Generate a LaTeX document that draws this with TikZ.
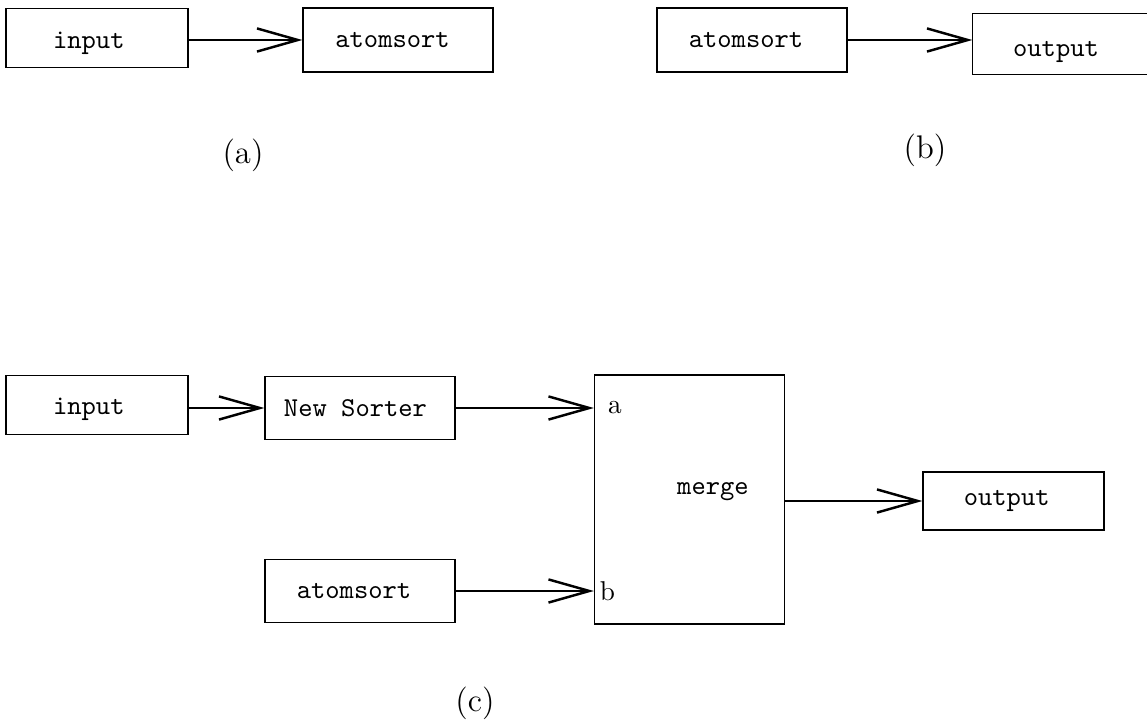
\documentclass[tikz,border=0pt]{standalone}
\usepackage{tikz}
\usetikzlibrary{arrows.meta,positioning}

\begin{document}
\begin{tikzpicture}[
  x=0.367pt, y=-0.367pt,
  box/.style={draw, line width=0.5pt, inner sep=0pt, font=\ttfamily,
    minimum width=69.7pt, minimum height=23pt},
  narrowbox/.style={box, minimum width=66.8pt, minimum height=21.6pt},
  lshift/.style={execute at end node={\kern#1}},
  low/.style={text height=#1, text depth=0pt},
  flow/.style={line width=0.9pt, -{Straight Barb[length=15pt,width=8.5pt]}},
  caption/.style={font=\large}
]
\useasboundingbox (0,0) rectangle (1147,721);

% (a)
\node[narrowbox, lshift=6pt, low=7.5pt] (inA) at (97,38) {input};
\node[box, minimum height=23.5pt, lshift=4pt] (sortA) at (398,40) {atomsort};
\draw[flow] (inA.east |- sortA) -- (sortA.west);
\node[caption] (capA) at (243,155) {(a)};

% (b)
\node[box, minimum height=23.5pt, lshift=4.4pt] (sortB) at (752,40) {atomsort};
\node[box, draw=none, minimum height=22pt, lshift=8.8pt, low=9pt] (outB) at (1068,44) {output};
\draw[line width=0.5pt] (outB.north east) -- (outB.north west)
  -- (outB.south west) -- (outB.south east);
\draw[flow] (sortB.east) -- (sortB.east -| outB.west);
\node[caption] (capB) at (925,150) {(b)};

% (c)
\node[narrowbox, lshift=6pt, low=7pt] (inC) at (97,405) {input};
\node[box, lshift=3.3pt] (newC) at (360,408) {New Sorter};
\node[box, lshift=4.4pt] (sortC) at (360,591) {atomsort};
\node[box, minimum height=91.4pt] (mergeC) at (689.5,499.5) {};
\node[font=\ttfamily] (mergeTxt) at (713,492) {merge};
\node[narrowbox, minimum width=66.4pt, minimum height=21.3pt, lshift=5pt] (outC) at (1013.5,501) {output};

\draw[flow] (inC.east |- newC) -- (newC.west);
\draw[flow] (newC.east) -- (newC.east -| mergeC.west) coordinate (portA);
\draw[flow] (sortC.east) -- (sortC.east -| mergeC.west) coordinate (portB);
\draw[flow] (mergeC.east |- outC) -- (outC.west);

\node[right=4pt of portA, inner sep=1pt] (labA) {a};
\node[right=1pt of portB, inner sep=1pt] (labB) {b};
\node[caption] (capC) at (475,703) {(c)};

\end{tikzpicture}
\end{document}
